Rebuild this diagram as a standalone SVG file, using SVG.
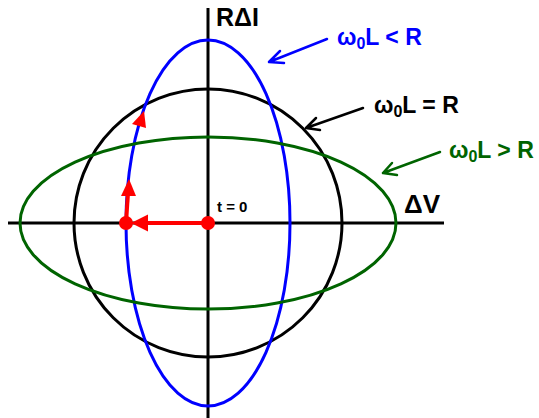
<svg xmlns="http://www.w3.org/2000/svg" width="539" height="418" viewBox="0 0 539 418">
<defs>
<style>
.axis{stroke:#000;stroke-width:3;fill:none}
.lbl{font-family:"Liberation Sans",Arial,sans-serif;font-weight:bold}
.ptr{stroke-width:2.5;fill:none;stroke-linecap:round;stroke-linejoin:round}
.red{stroke:#ff0000;stroke-width:4;fill:none}
</style>
</defs>
<rect width="539" height="418" fill="#fff"/>
<g id="axes">
<line class="axis" x1="8" y1="223" x2="444" y2="223"/>
<line class="axis" x1="208" y1="8" x2="208" y2="418"/>
</g>
<g id="circle-equal"><circle cx="208" cy="223" r="134" fill="none" stroke="#000" stroke-width="3"/></g>
<g id="ellipse-less"><ellipse cx="208" cy="223" rx="82" ry="183" fill="none" stroke="#0000ff" stroke-width="3"/></g>
<g id="ellipse-greater"><ellipse cx="208" cy="223" rx="188" ry="86" fill="none" stroke="#006400" stroke-width="3"/></g>
<g id="connectors">
<path class="ptr" stroke="#0000ff" d="M327 39 L269 62 M280 51 L269 62 L284 63"/>
<path class="ptr" stroke="#000" d="M363 108 L306 128 M316 118 L306 128 L320 130"/>
<path class="ptr" stroke="#006400" d="M440 152 L383 173 M392 163 L383 173 L397 175"/>
</g>
<g id="trajectory">
<line class="red" x1="208" y1="223" x2="145" y2="223"/>
<polygon points="131,223 148,214.5 148,231.5" fill="#ff0000"/>
<path class="red" d="M126 223 L127 208 L128 193"/>
<polygon points="129,179 121,196 136,196" fill="#ff0000"/>
<polygon points="144,111 132,124 146,128" fill="#ff0000"/>
<circle cx="208" cy="223" r="7" fill="#ff0000"/>
<circle cx="126" cy="223" r="7" fill="#ff0000"/>
</g>
<g id="labels">
<text class="lbl" x="216" y="26" font-size="25">RΔI</text>
<text class="lbl" x="404" y="213" font-size="26">ΔV</text>
<text class="lbl" x="217" y="212" font-size="15">t = 0</text>
<text class="lbl" x="337" y="45" font-size="23" fill="#0000ff">ω<tspan font-size="16" dy="4">0</tspan><tspan dy="-4">L &lt; R</tspan></text>
<text class="lbl" x="374" y="113" font-size="23" fill="#000">ω<tspan font-size="16" dy="4">0</tspan><tspan dy="-4">L = R</tspan></text>
<text class="lbl" x="449" y="158" font-size="23" fill="#006400">ω<tspan font-size="16" dy="4">0</tspan><tspan dy="-4">L &gt; R</tspan></text>
</g>
</svg>
